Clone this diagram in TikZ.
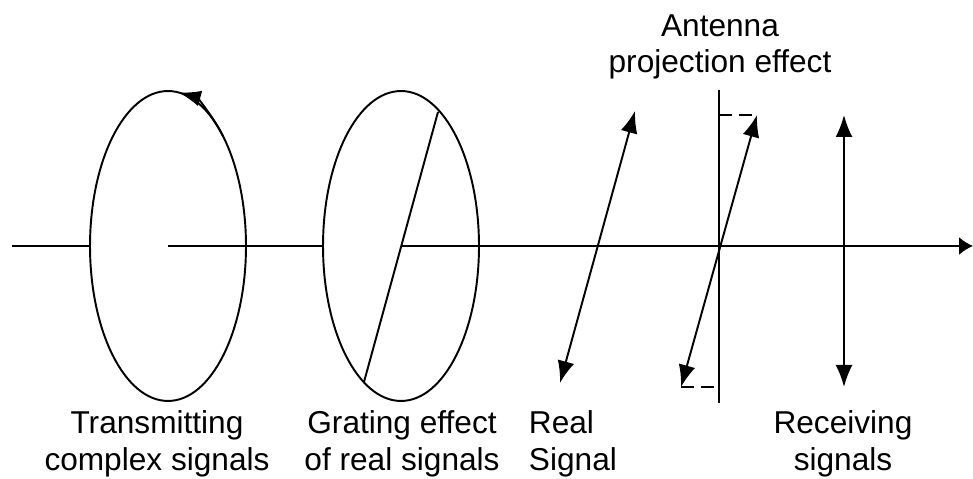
\documentclass[tikz,border=0pt]{standalone}
\usepackage{fontspec}
\setmainfont{Liberation Sans}
\usetikzlibrary{arrows.meta,shapes.geometric}
\begin{document}
\begin{tikzpicture}[x=0.02cm, y=0.02cm, line width=1.1pt,
    font=\fontsize{18}{20.6}\selectfont,
    disc/.style={draw, ellipse, minimum width=3.12cm, minimum height=6.2cm, inner sep=0pt},
    sig/.style={{Latex[length=0.44cm,width=0.34cm]}-{Latex[length=0.44cm,width=0.34cm]}},
    proj/.style={dash pattern=on 0.26cm off 0.14cm},
    lbl/.style={anchor=north, align=center, inner sep=0pt}]
  \useasboundingbox (0,0) rectangle (973,479);
  \node[disc] (tx) at (168,233) {};
  \node[disc] (gr) at (401,233) {};
  \coordinate (start) at (12,233);
  \coordinate (end) at (973,233);
  \draw (start) -- (tx.west);
  \draw (tx.center) -- (gr.west);
  \draw[-{Latex[length=0.28cm,width=0.36cm]}] (gr.center) -- (end);
  % sense of rotation
  \draw[-{Latex[length=0.44cm,width=0.32cm]}] (tx.center) ++(45:78 and 155)
    arc[start angle=45, end angle=82, x radius=78, y radius=155];
  % grating
  \coordinate (ga) at (438,367);
  \coordinate (gb) at (364,97);
  \draw (ga) -- (gb);
  % real signal
  \coordinate (ra) at (635,368);
  \coordinate (rb) at (560,96);
  \draw[sig] (rb) -- (ra);
  % antenna and its projection
  \coordinate (antT) at (719,389);
  \coordinate (antB) at (719,76);
  \draw (antT) -- (antB);
  \coordinate (pa) at (757,364);
  \coordinate (pb) at (681,92);
  \draw[sig] (pb) -- (pa);
  \draw[proj] (antT |- pa) -- (pa);
  \draw[proj] (pb) -- (antT |- pb);
  % received signal
  \coordinate (rxa) at (844,364);
  \coordinate (rxb) at (844,92);
  \draw[sig] (rxb) -- (rxa);
  \node[lbl] (txl) at (157,69) {Transmitting\\complex signals};
  \node[lbl] (grl) at (402,69) {Grating effect\\of real signals};
  \node[lbl, anchor=north west, align=left] (rel) at (528,69) {Real\\Signal};
  \node[lbl] (rxl) at (843,69) {Receiving\\signals};
  \node[lbl] (antl) at (720,465) {Antenna\\projection effect};
\end{tikzpicture}
\end{document}
